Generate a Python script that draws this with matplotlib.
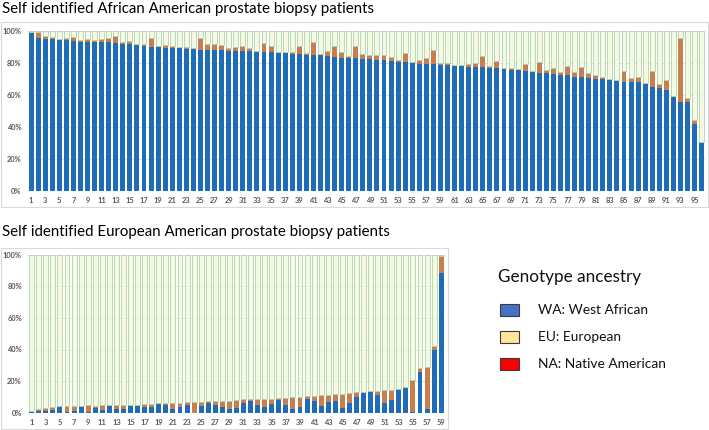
import matplotlib
matplotlib.use("Agg")
import matplotlib.pyplot as plt
from matplotlib.patches import Rectangle
import numpy as np

# ---------------- data (percent) ----------------
aa_wa = [98.8, 95.3, 95.0, 94.6, 94.4, 94.1, 93.7, 93.1, 93.0, 92.9,
         92.8, 92.7, 92.5, 92.0, 91.8, 91.0, 90.3, 89.9, 89.7, 89.2,
         89.0, 89.0, 88.8, 88.7, 88.0, 88.0, 87.9, 87.8, 87.6, 87.5,
         87.3, 87.2, 86.9, 86.8, 86.7, 86.2, 85.8, 85.7, 85.6, 84.9,
         84.6, 84.6, 84.2, 83.6, 83.1, 82.9, 82.8, 82.5, 82.4, 81.9,
         81.5, 81.1, 80.6, 80.2, 80.0, 79.4, 79.2, 79.0, 78.6, 78.4,
         78.1, 78.0, 77.5, 77.3, 77.1, 76.9, 76.5, 76.1, 75.6, 75.2,
         74.8, 73.9, 73.7, 73.3, 72.9, 72.5, 72.2, 71.3, 70.8, 70.6,
         69.8, 69.7, 69.2, 68.8, 68.1, 68.0, 67.7, 66.5, 64.8, 64.0,
         62.7, 58.4, 55.6, 55.6, 41.5, 30.2]
aa_eu = [0.5, 3.6, 1.5, 1.3, 0.7, 1.4, 2.5, 1.2, 1.9, 1.6,
         1.8, 3.0, 4.3, 0.8, 1.6, 0.6, 1.7, 5.3, 0.5, 2.0,
         1.2, 0.6, 1.2, 0.7, 7.3, 3.7, 3.6, 3.3, 1.8, 2.4,
         3.2, 1.9, 0.6, 5.3, 3.5, 0.8, 0.7, 0.9, 4.6, 1.2,
         8.3, 0.8, 3.1, 7.0, 3.8, 1.5, 7.5, 2.7, 2.2, 2.7,
         3.3, 2.3, 1.3, 5.9, 0.2, 2.1, 3.5, 9.1, 1.0, 1.6,
         0.4, 0.3, 1.4, 2.3, 7.0, 1.2, 4.6, 0.7, 0.8, 0.7,
         4.4, 0.9, 6.5, 1.9, 4.0, 1.9, 5.7, 3.1, 6.7, 3.0,
         2.3, 1.1, 0.8, 0.2, 6.5, 2.6, 3.6, 0.6, 10.0, 2.5,
         6.5, 1.0, 40.0, 2.2, 2.5, 0.3]

ea_wa = [0.6, 0.8, 0.8, 1.9, 3.4, 0.4, 1.3, 4.2, 0.2, 3.0,
         1.9, 4.4, 2.3, 2.1, 4.6, 4.6, 3.4, 3.4, 5.5, 4.9,
         2.1, 3.4, 4.9, 0.0, 4.0, 6.1, 5.1, 3.4, 2.3, 3.2,
         6.3, 7.6, 5.1, 3.8, 5.7, 7.8, 4.6, 2.5, 3.6, 8.6,
         7.6, 4.0, 6.8, 7.2, 2.7, 6.3, 10.1, 12.2, 12.9, 11.4,
         6.1, 8.2, 14.8, 15.6, 0.6, 25.9, 2.1, 39.7, 88.5]
ea_eu = [0.4, 1.5, 1.9, 1.7, 0.6, 3.6, 2.9, 0.2, 4.4, 1.4,
         2.7, 0.2, 2.3, 2.8, 0.3, 0.5, 2.1, 2.1, 0.6, 1.2,
         4.2, 2.9, 1.6, 7.0, 2.8, 1.1, 2.3, 4.0, 5.1, 5.0,
         2.1, 0.8, 3.5, 4.8, 3.2, 1.5, 4.9, 7.6, 6.5, 1.7,
         3.2, 7.0, 4.4, 4.6, 9.3, 5.9, 2.8, 1.1, 0.6, 2.5,
         8.0, 6.4, 0.4, 0.9, 20.1, 2.6, 27.0, 2.5, 10.5]

title_top = "Self identified African American prostate biopsy patients"
title_bottom = "Self identified European American prostate biopsy patients"
legend_title = "Genotype ancestry"
legend_labels = ["WA: West African", "EU: European", "NA: Native American"]
legend_colors = ["#4472C4", "#FFE699", "#FF0000"]
y_ticks = [0, 20, 40, 60, 80, 100]
y_tick_labels = ["0%", "20%", "40%", "60%", "80%", "100%"]

# ---------------- style ----------------
BLUE = "#1F6DB9"
ORANGE = "#C97E4E"
PALE = "#F4F9E2"
GREEN = "#B0D4B0"
TICK = "#595959"
FONT = "Lato"

W, H = 709, 430
fig = plt.figure(figsize=(W / 100, H / 100), dpi=100)


def ax_at(l, t, r, b):
    return fig.add_axes([l / W, 1 - b / H, (r - l) / W, (b - t) / H])


def frame(l, t, r, b):
    fig.patches.append(Rectangle((l / W, 1 - b / H), (r - l) / W, (b - t) / H,
                                 transform=fig.transFigure, fill=False,
                                 edgecolor="#d9d9d9", linewidth=0.8))


def draw(ax, wa, eu):
    wa = np.array(wa)
    eu = np.array(eu)
    n = len(wa)
    x = np.arange(1, n + 1)
    rest = 100 - wa - eu
    ax.bar(x, wa, width=0.7, color=BLUE, linewidth=0, zorder=2)
    ax.bar(x, eu, bottom=wa, width=0.7, color=ORANGE, linewidth=0, zorder=2)
    ax.bar(x, rest, bottom=wa + eu, width=0.7, color=PALE, edgecolor=GREEN,
           linewidth=0.6, zorder=2)
    ax.set_xlim(0.5, n + 0.5)
    ax.set_ylim(0, 100)
    ax.set_yticks(y_ticks)
    ax.set_yticklabels(y_tick_labels)
    odd = np.arange(1, n + 1, 2)
    ax.set_xticks(odd)
    ax.set_xticklabels([str(v) for v in odd])
    ax.yaxis.grid(True, color="#d9d9d9", linewidth=0.6, zorder=0)
    ax.set_axisbelow(True)
    for s in ax.spines.values():
        s.set_visible(False)
    ax.tick_params(length=0, labelsize=5.4, labelcolor=TICK, pad=4.5)
    for lab in ax.get_xticklabels() + ax.get_yticklabels():
        lab.set_fontweight("bold")
        lab.set_family(FONT)


ax1 = ax_at(27.5, 30.7, 705.2, 190.7)
ax2 = ax_at(28.2, 254.7, 444.7, 412.7)
draw(ax1, aa_wa, aa_eu)
draw(ax2, ea_wa, ea_eu)

frame(0.7, 22, 708.3, 207)
frame(0.7, 248, 448, 428.5)

fig.text(2 / W, 1 - 9.3 / H, title_top, fontsize=10.8, family=FONT,
         va="center", ha="left", color="#000000")
fig.text(2 / W, 1 - 231.7 / H, title_bottom, fontsize=10.8, family=FONT,
         va="center", ha="left", color="#000000")

# legend
fig.text(498 / W, 1 - 277 / H, legend_title, fontsize=12.3, family=FONT,
         va="center", ha="left", color="#111111")
for i, (lab, col) in enumerate(zip(legend_labels, legend_colors)):
    yc = 310 + i * 27.2
    fig.patches.append(Rectangle((499.5 / W, 1 - (yc + 6) / H), 19 / W, 12 / H,
                                 transform=fig.transFigure, facecolor=col,
                                 edgecolor="#3a3a3a", linewidth=0.8))
    fig.text(538 / W, 1 - yc / H, lab, fontsize=9.9, family=FONT,
             va="center", ha="left", color="#111111")

fig.savefig("out.png", dpi=100)
